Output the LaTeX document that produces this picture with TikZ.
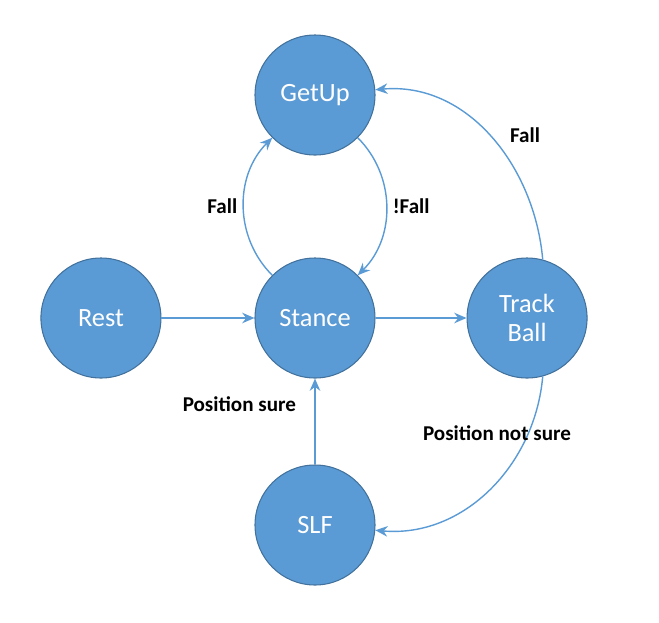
\documentclass[tikz,border=0pt]{standalone}
\usepackage{fontspec}
\setmainfont{Carlito}
\usetikzlibrary{arrows.meta,positioning}
\definecolor{stateblue}{HTML}{5B9BD5}
\definecolor{stateedge}{HTML}{41719C}
\tikzset{
  state/.style={circle,fill=stateblue,draw=stateedge,line width=0.6pt,minimum size=2.4cm,text=white,font=\fontsize{15}{17}\selectfont,align=center},
  trans/.style={draw=stateblue,line width=0.8pt,-{Stealth[length=7pt,width=6pt]}},
  lab/.style={font=\bfseries\fontsize{12}{14}\selectfont}
}
\begin{document}
\begin{tikzpicture}
\useasboundingbox (0,0) rectangle (13.18,-12.46);

\node[state] (getup) at (6.3,-1.9) {GetUp};
\node[state] (stance) at (6.3,-6.36) {Stance};
\node[state] (rest) [left=1.86cm of stance] {Rest};
\node[state] (track) [right=1.82cm of stance] {Track\\Ball};
\node[state] (slf) at (6.3,-10.5) {SLF};

\draw[trans] (rest) -- (stance);
\draw[trans] (stance) -- (track);
\draw[trans] (slf) -- node[lab,left=0.25cm,pos=0.7] {Position sure} (stance);
\draw[trans] (stance.135) to[bend left=45] node[lab,left,pos=0.5] {Fall} (getup.225);
\draw[trans] (getup.315) to[bend left=45] node[lab,right,pos=0.5] {!Fall} (stance.45);
\draw[trans] (track.75) to[out=95,in=5] coordinate[pos=0.45] (fallmid) (getup.5);
\node[lab] (falltop) at (10.5,-2.7) {Fall};
\draw[trans] (track.285) to[out=-95,in=-5] coordinate[pos=0.3] (notmid) (slf.-5);
\node[lab] (notsure) at (9.94,-8.66) {Position not sure};
\end{tikzpicture}
\end{document}
